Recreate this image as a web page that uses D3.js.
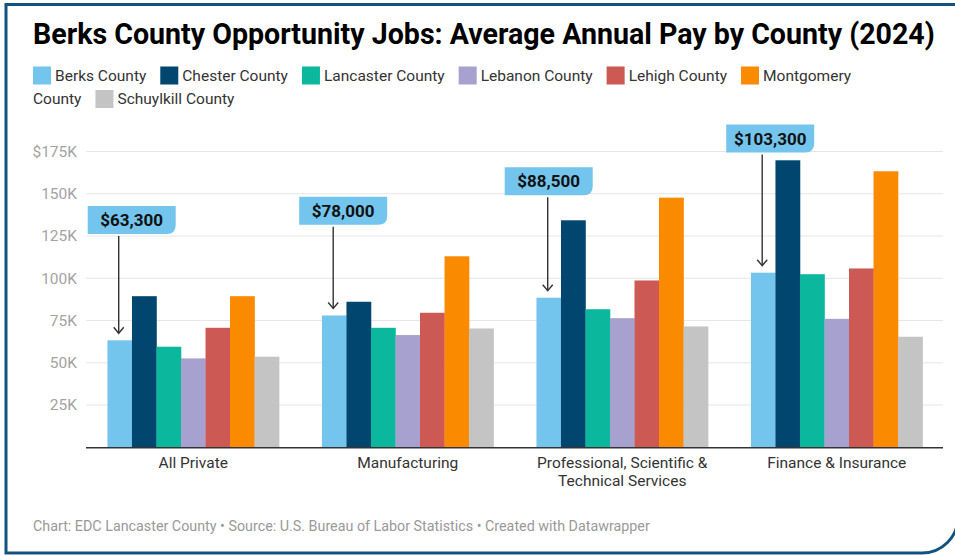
<!DOCTYPE html>
<html><head><meta charset="utf-8">
<script src="https://cdn.jsdelivr.net/npm/d3@7"></script>
<style>
body{margin:0;background:#fff;}
svg{display:block;font-family:Roboto,"Noto Sans",sans-serif;}
</style>
</head><body><svg id="chart" width="955" height="555"></svg>
<script>
// ---------- data ----------
const categories = ["All Private", "Manufacturing", "Professional, Scientific & Technical Services", "Finance & Insurance"];
const categoryLines = [["All Private"], ["Manufacturing"], ["Professional, Scientific &", "Technical Services"], ["Finance & Insurance"]];
const seriesNames = ["Berks County", "Chester County", "Lancaster County", "Lebanon County", "Lehigh County", "Montgomery County", "Schuylkill County"];
const seriesColors = ["#73c5ee", "#00466e", "#0bb89d", "#a7a1d0", "#cc5954", "#fa8b00", "#c4c4c4"];
const berks      = [63300, 78000, 88500, 103300];
const chester    = [89400, 86100, 134300, 169800];
const lancaster  = [59500, 70700, 81700, 102400];
const lebanon    = [52600, 66400, 76400, 76000];
const lehigh     = [70700, 79600, 98700, 105800];
const montgomery = [89400, 113000, 147700, 163300];
const schuylkill = [53600, 70300, 71500, 65400];
const yTicks = [25000, 50000, 75000, 100000, 125000, 150000, 175000];
const yTickLabels = ["25K", "50K", "75K", "100K", "125K", "150K", "$175K"];
// callouts: value shown and the data level of the top of each label
const calloutValues = berks;
const calloutLevels = [142800, 148300, 165700, 191000];

const title = "Berks County Opportunity Jobs: Average Annual Pay by County (2024)";
const footer = "Chart: EDC Lancaster County \u2022 Source: U.S. Bureau of Labor Statistics \u2022 Created with Datawrapper";

const seriesValues = [berks, chester, lancaster, lebanon, lehigh, montgomery, schuylkill];

// ---------- layout ----------
const W = 955, H = 555;
const plot = {left: 86, right: 944, top: 151.5, bottom: 447.3};
const calloutDx = [-31, -34, -43, -36];
const calloutW = 88, calloutH = 28;

const svg = d3.select("#chart");

// frame
svg.append("path")
  .attr("d", `M6,4.5 H958 V517 A36,36 0 0 1 922,553 H6 Z`)
  .attr("fill", "none").attr("stroke", "#12527f").attr("stroke-width", 3);

// title
const t = svg.append("text").attr("x", 33).attr("y", 44)
  .attr("font-weight", 700).attr("font-size", 26).attr("fill", "#000").text(title);
const tw = t.node().getComputedTextLength();
t.attr("font-size", 26 * 902 / tw);

// legend (flow layout with word wrap)
const legend = svg.append("g").attr("font-size", 15.5).attr("fill", "#333");
{
  let x = 33, row = 0;
  const maxX = 880, rowH = 23.5, y0 = 75.5, sw = 18, gapSw = 4, gapItem = 14;
  const measure = s => {
    const tt = legend.append("text").text(s);
    const w = tt.node().getComputedTextLength(); tt.remove(); return w;
  };
  const spaceW = measure("a b") - measure("ab");
  seriesNames.forEach((name, i) => {
    const words = name.split(" ");
    if (x + sw + gapSw + measure(words[0]) > maxX) { row++; x = 33; }
    legend.append("rect").attr("x", x).attr("y", y0 + row * rowH - sw / 2)
      .attr("width", sw).attr("height", sw).attr("fill", seriesColors[i]);
    x += sw + gapSw;
    words.forEach((wd, j) => {
      const w = measure(wd);
      if (j > 0) {
        if (x + spaceW + w > maxX) { row++; x = 33; } else { x += spaceW; }
      }
      legend.append("text").attr("x", x).attr("y", y0 + row * rowH).attr("dy", "0.35em").text(wd);
      x += w;
    });
    x += gapItem;
  });
}

// scales
const x0 = d3.scaleBand().domain(categories).range([plot.left, plot.right]).paddingInner(0.2).paddingOuter(0.1);
const x1 = d3.scaleBand().domain(seriesNames).range([0, x0.bandwidth()]).padding(0);
const y = d3.scaleLinear().domain([0, 175000]).range([plot.bottom, plot.top]);

// grid + y labels
const grid = svg.append("g");
grid.selectAll("line").data(yTicks).join("line")
  .attr("x1", plot.left).attr("x2", plot.right - 1)
  .attr("y1", d => y(d)).attr("y2", d => y(d))
  .attr("stroke", "#e6e6e6").attr("stroke-width", 1);
grid.selectAll("text").data(yTicks).join("text")
  .attr("x", 77).attr("y", d => y(d)).attr("dy", "0.35em")
  .attr("text-anchor", "end").attr("font-size", 15.5).attr("fill", "#a3a3a3")
  .text((d, i) => yTickLabels[i]);

// bars
const groups = svg.append("g").selectAll("g").data(categories).join("g")
  .attr("transform", d => `translate(${x0(d)},0)`);
groups.selectAll("rect").data((c, ci) => seriesNames.map((s, si) => ({s, si, v: seriesValues[si][ci]})))
  .join("rect")
  .attr("x", d => x1(d.s)).attr("width", x1.bandwidth() + 0.3)
  .attr("y", d => y(d.v)).attr("height", d => y(0) - y(d.v))
  .attr("fill", d => seriesColors[d.si]);

// baseline
svg.append("line").attr("x1", plot.left).attr("x2", plot.right - 1)
  .attr("y1", y(0) + 0.5).attr("y2", y(0) + 0.5).attr("stroke", "#333").attr("stroke-width", 1.5);

// x labels
const xl = svg.append("g").attr("font-size", 15.5).attr("fill", "#333").attr("text-anchor", "middle");
categories.forEach((c, i) => {
  categoryLines[i].forEach((ln, j) => {
    xl.append("text").attr("x", x0(c) + x0.bandwidth() / 2).attr("y", 468 + j * 18).text(ln);
  });
});

// callouts
const fmt = d3.format("$,");
const ann = svg.append("g");
categories.forEach((c, i) => {
  const ax = x0(c) + x1(seriesNames[0]) + x1.bandwidth() / 2 - 1;
  const top = y(calloutLevels[i]);
  const bx = ax + calloutDx[i];
  const r = 9;
  ann.append("path")
    .attr("d", `M${bx},${top} H${bx + calloutW} V${top + calloutH - r} Q${bx + calloutW},${top + calloutH} ${bx + calloutW - r},${top + calloutH} H${bx} Z`)
    .attr("fill", seriesColors[0]);
  ann.append("text").attr("x", bx + calloutW / 2).attr("y", top + calloutH / 2).attr("dy", "0.36em")
    .attr("text-anchor", "middle").attr("font-size", 17).attr("font-weight", 700).attr("fill", "#111")
    .text(fmt(calloutValues[i]));
  const tipY = y(seriesValues[0][i]) - 7;
  ann.append("line").attr("x1", ax).attr("x2", ax).attr("y1", top + calloutH + 2).attr("y2", tipY)
    .attr("stroke", "#333").attr("stroke-width", 1.4);
  ann.append("path").attr("d", `M${ax - 5},${tipY - 6} L${ax},${tipY} L${ax + 5},${tipY - 6}`)
    .attr("fill", "none").attr("stroke", "#333").attr("stroke-width", 1.4);
});

// footer
svg.append("text").attr("x", 33).attr("y", 531).attr("font-size", 14.3).attr("fill", "#999").text(footer);
</script>
</body></html>
